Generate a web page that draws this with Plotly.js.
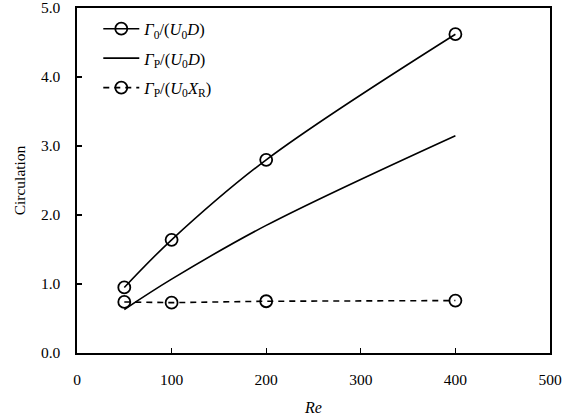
<!DOCTYPE html>
<html><head><meta charset="utf-8">
<script src="https://cdn.plot.ly/plotly-3.0.1.min.js"></script>
<style>html,body{margin:0;padding:0;background:#fff}</style>
</head><body>
<div id="chart" style="width:581px;height:419px"></div>
<script>
const re = [50, 100, 200, 400];
const gamma0_U0D = [0.95, 1.64, 2.80, 4.62];
const gammaP_U0D = [0.63, 1.07, 1.85, 3.15];
const gammaP_U0XR = [0.74, 0.73, 0.75, 0.76];
const xTicks = [0, 100, 200, 300, 400, 500];
const yTicks = [0, 1, 2, 3, 4, 5];
const yTickText = yTicks.map(v => v.toFixed(1));

const font = {family: 'Liberation Serif', color: '#000'};
const traces = [
  {x: re, y: gamma0_U0D, mode: 'lines+markers', line: {color: '#000', width: 1.6, shape: 'spline'},
   marker: {symbol: 'circle-open', size: 12, color: '#000', line: {width: 1.8}},
   legendgroup: 'a',
   name: '<i>Γ</i><sub>0</sub>/(<i>U</i><sub>0</sub><i>D</i>)'},
  {x: re, y: gammaP_U0D, mode: 'lines', line: {color: '#000', width: 1.6, shape: 'spline'},
   legendgroup: 'b',
   name: '<i>Γ</i><sub>P</sub>/(<i>U</i><sub>0</sub><i>D</i>)'},
  {x: re, y: gammaP_U0XR, mode: 'lines+markers', line: {color: '#000', width: 1.6, dash: '6px,5px'},
   marker: {symbol: 'circle-open', size: 12, color: '#000', line: {width: 1.8}},
   legendgroup: 'c',
   name: '<i>Γ</i><sub>P</sub>/(<i>U</i><sub>0</sub><i>X</i><sub>R</sub>)'}
];
const layout = {
  width: 581, height: 419,
  margin: {l: 77, r: 31, t: 8, b: 66},
  paper_bgcolor: '#fff', plot_bgcolor: '#fff',
  font: Object.assign({size: 15}, font),
  showlegend: true,
  legend: {x: 0.045, y: 0.99, xanchor: 'left', yanchor: 'top', bgcolor: 'rgba(0,0,0,0)',
           font: Object.assign({size: 16.5}, font), tracegroupgap: 5, itemwidth: 36},
  xaxis: {range: [0, 500], tickvals: xTicks, ticktext: xTicks.map(String), ticks: 'inside', ticklen: 5,
          tickwidth: 1.3, tickcolor: '#000', showline: true, linecolor: '#000', linewidth: 1.6, mirror: true,
          showgrid: false, zeroline: false, tickfont: Object.assign({size: 15.5}, font),
          ticklabelstandoff: 12, ticklabeloverflow: 'allow',
          title: {text: '<i>Re</i>', font: Object.assign({size: 16}, font), standoff: 14}},
  yaxis: {range: [0, 5], tickvals: yTicks, ticktext: yTickText, ticks: 'inside', ticklen: 5,
          tickwidth: 1.3, tickcolor: '#000', showline: true, linecolor: '#000', linewidth: 1.6, mirror: true,
          showgrid: false, zeroline: false, tickfont: Object.assign({size: 15.5}, font),
          ticklabelstandoff: 12, ticklabeloverflow: 'allow',
          title: {text: 'Circulation', font: Object.assign({size: 15.5}, font), standoff: 11}}
};
Plotly.newPlot('chart', traces, layout, {displayModeBar: false, staticPlot: true});
</script>
</body></html>
